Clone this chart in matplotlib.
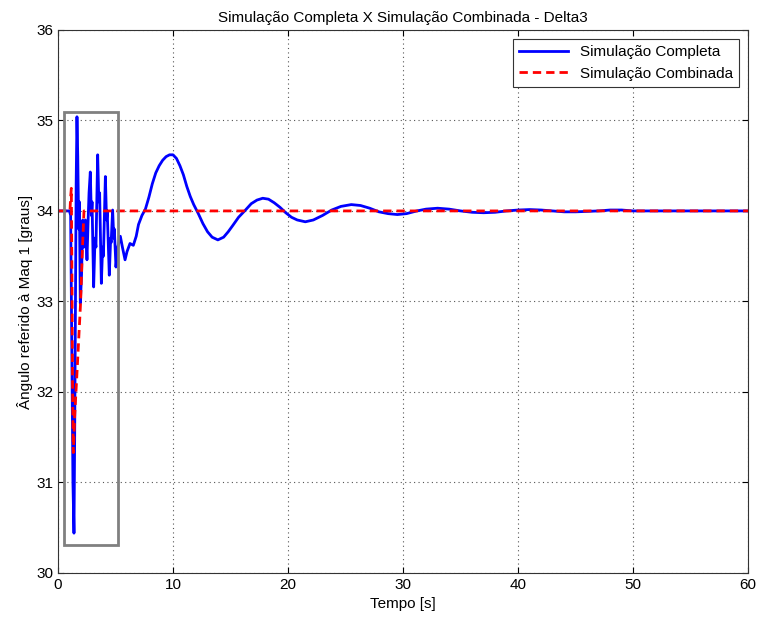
import matplotlib
matplotlib.use("Agg")
import matplotlib.pyplot as plt
from matplotlib.patches import Rectangle

# Simulacao completa (blue)
t_completa = [0.0, 1.0, 1.1, 1.2, 1.3, 1.39, 1.45, 1.52, 1.58, 1.65,
              1.72, 1.8, 1.86, 1.94, 2.05, 2.15, 2.25, 2.38, 2.52, 2.62,
              2.7, 2.81, 2.9, 2.96, 3.1, 3.22, 3.3, 3.45, 3.55, 3.62,
              3.77, 3.88, 3.95, 4.12, 4.22, 4.28, 4.46, 4.58, 4.62, 4.75,
              4.85, 4.9, 5.04, 5.2, 5.42, 5.6, 5.83, 6.0, 6.26, 6.55,
              6.8, 7.0, 7.3, 7.6, 7.9, 8.2, 8.5, 8.8, 9.1, 9.4,
              9.7, 10.0, 10.3, 10.6, 10.9, 11.2, 11.5, 11.8, 12.2, 12.6,
              13.0, 13.4, 13.9, 14.4, 14.8, 15.2, 15.7, 16.3, 16.8, 17.3,
              17.8, 18.3, 18.8, 19.3, 19.8, 20.3, 20.8, 21.5, 22.2, 23.0,
              23.8, 24.6, 25.5, 26.3, 27.1, 27.9, 28.7, 29.5, 30.3, 31.2,
              32.0, 33.0, 34.0, 35.0, 36.0, 37.0, 38.0, 39.0, 40.0, 41.0,
              42.0, 43.0, 44.0, 45.0, 46.0, 47.0, 48.0, 49.0, 50.0, 60.0]
y_completa = [34.0, 34.0, 33.95, 32.5, 31.0, 30.44, 31.5, 33.0, 34.3, 35.04,
              34.6, 33.8, 34.1, 32.98, 33.3, 33.9, 33.6, 33.9, 33.46, 33.9,
              34.2, 34.43, 33.95, 34.1, 33.16, 33.7, 33.6, 34.62, 34.1, 34.2,
              33.2, 33.6, 33.5, 34.38, 33.9, 34.0, 33.29, 33.7, 33.65, 34.01,
              33.7, 33.8, 33.38, 33.6, 33.72, 33.6, 33.46, 33.55, 33.64, 33.62,
              33.72, 33.85, 33.95, 34.02, 34.15, 34.3, 34.42, 34.5, 34.56, 34.6,
              34.62, 34.62, 34.58, 34.5, 34.4, 34.27, 34.16, 34.07, 33.97, 33.86,
              33.77, 33.71, 33.68, 33.71, 33.77, 33.84, 33.93, 34.01, 34.08, 34.12,
              34.14, 34.13, 34.09, 34.04, 33.98, 33.93, 33.9, 33.88, 33.9, 33.95,
              34.01, 34.05, 34.07, 34.06, 34.03, 33.99, 33.97, 33.96, 33.97, 34.0,
              34.02, 34.03, 34.02, 34.0, 33.985, 33.98, 33.985, 34.0, 34.01, 34.015,
              34.01, 34.0, 33.99, 33.99, 33.995, 34.0, 34.01, 34.01, 34.0, 34.0]

# Simulacao combinada (red dashed)
t_combinada = [0.0, 1.04, 1.1, 1.16, 1.2, 1.27, 1.33, 1.45, 1.68, 1.97,
               2.1, 2.26, 60.0]
y_combinada = [34.0, 34.0, 34.15, 34.25, 33.5, 32.0, 31.33, 31.73, 32.28, 33.0,
               33.5, 34.0, 34.0]

plt.rcParams["font.family"] = ["Liberation Sans", "DejaVu Sans"]

fig = plt.figure(figsize=(7.58, 6.23), dpi=100)
ax = fig.add_axes([0.0765, 0.0803, 0.9105, 0.8717])

ax.plot(t_completa, y_completa, color="#0000ff", lw=2, label="Simulação Completa")
ax.plot(t_combinada, y_combinada, color="#ff0000", lw=2, ls=(0, (3, 1.8)),
        label="Simulação Combinada")

# box around the fast transient
ax.add_patch(Rectangle((0.5, 30.31), 4.7, 4.78, fill=False,
                       edgecolor="#808080", lw=2, zorder=5))

ax.set_xlim(0, 60)
ax.set_ylim(30, 36)
ax.set_xticks(range(0, 61, 10))
ax.set_yticks(range(30, 37))
ax.grid(True, ls=(0, (1, 3)), color="#555555", lw=0.8)
ax.tick_params(direction="in", labelsize=11, length=4, top=True, right=True)
for s in ax.spines.values():
    s.set_color("#333333")

ax.set_title("Simulação Completa X Simulação Combinada - Delta3", fontsize=11)
ax.set_xlabel("Tempo [s]", fontsize=11)
ax.set_ylabel("Ângulo referido à Maq 1 [graus]", fontsize=11, labelpad=2)

leg = ax.legend(loc="upper right", fontsize=11, fancybox=False, framealpha=1,
                edgecolor="#333333", borderaxespad=0.6, handlelength=3.2)
leg.get_frame().set_linewidth(0.8)

fig.savefig("out.png", dpi=100)
